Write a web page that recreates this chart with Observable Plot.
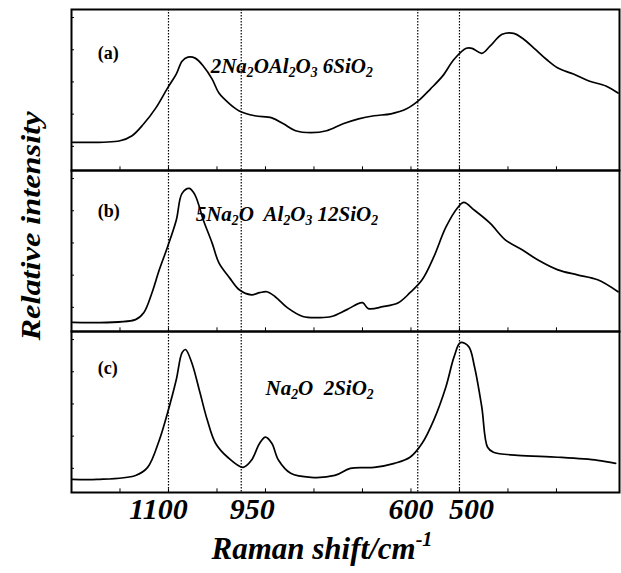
<!DOCTYPE html>
<html><head><meta charset="utf-8">
<script src="https://cdn.jsdelivr.net/npm/d3@7"></script>
<script src="https://cdn.jsdelivr.net/npm/@observablehq/plot@0.6"></script>
<style>
body{margin:0;background:#fff;}
</style></head><body><div id="chart"></div>
<script>
const panels = ["a", "b", "c"];
const panelLabels = ["(a)", "(b)", "(c)"];
const compositions = ["2Na₂OAl₂O₃ 6SiO₂", "5Na₂O\u00a0 Al₂O₃ 12SiO₂", "Na₂O\u00a0 2SiO₂"];
const labelX = [1246, 1246, 1246];
const labelY = [73, 75, 77];
const compX = [1013, 1044, 900];
const compY = [65, 73, 65];
const xTickLabels = [1100, 950, 600, 500];
const xMinorTicks = [1200, 1100, 1000, 900, 800, 700, 600, 500, 400, 300];
const yMinorTicks = [15, 35, 55, 75, 95];
const guideLines = [1100, 950, 586, 500];

// (a) 2Na2O Al2O3 6SiO2
const shiftA = [1298,1200,1175,1151,1126,1102,1084,1072,1060,1045,1028,1010,996,974,954,922,887,863,838,806,774,740,708,676,641,609,585,560,535,511,486,474,454,437,412,388,370,346,321,297,265,233,198,173];
const intA = [17.5,18.5,21.6,29,38.9,51.2,59.9,67.9,70.4,69.8,64.8,56.8,48.1,41.4,37,34,32.7,29,24.7,23.5,24.7,29,32.1,34,35.2,38.3,43.2,50.6,58.6,69.1,75.9,75.9,72.8,77.2,84.6,85.2,82.1,75.9,69.1,63.6,59.9,55.6,52.5,48.1];
// (b) 5Na2O Al2O3 12SiO2
const shiftB = [1298,1168,1151,1134,1119,1102,1084,1072,1057,1045,1028,1010,996,974,954,929,912,897,880,855,823,789,764,732,700,688,658,626,602,577,553,528,503,491,469,437,405,370,338,297,257,215,173];
const intB = [5.7,7.4,11.7,24.1,38.3,52.5,69.1,85.8,88.9,84.6,69.1,54.9,42.6,33.3,25.9,22.8,24.1,24.7,21.6,14.8,9.3,8.6,9.3,13.6,17.9,14.2,15.4,17.9,24.1,32.1,46.3,64.8,77.2,80.2,75.3,67.3,56.8,50.6,44.4,38.3,35.2,32.1,24.7];
// (c) Na2O 2SiO2
const shiftC = [1298,1247,1168,1143,1119,1102,1084,1072,1065,1052,1035,1020,1003,978,946,929,912,900,887,873,848,806,757,725,676,634,602,577,553,528,511,498,481,469,454,442,430,380,297,215,178];
const intC = [8.1,8.1,10.6,15.6,32.5,49.4,70,86.9,88.8,80.6,61.9,45,30.6,21.9,15.6,20,30.6,34.4,30.6,20,11.9,9.4,10.6,15,15.6,18.1,21.9,30.6,45,65.6,84.4,93.1,90.6,78.1,53.1,28.1,25,23.1,21.9,20,18.1];

const FONT = '"Liberation Serif", "Times New Roman", Times, serif';

const table = [];
[[shiftA, intA], [shiftB, intB], [shiftC, intC]].forEach(([xs, ys], k) =>
  xs.forEach((v, i) => table.push({panel: panels[k], shift: v, intensity: ys[i]})));
const labelTable = panels.map((p, k) => ({panel: p, label: panelLabels[k], comp: compositions[k],
  lx: labelX[k], ly: labelY[k], cx: compX[k], cy: compY[k]}));

const W = 621, H = 573, ML = 71, MR = 2, MT = 8, MB = 81;
const facetH = (H - MT - MB) / panels.length;
// hand-placed label nudges as in the original figure
const tickLabelNudge = [-10, 11, 0, 12];

const plot = Plot.plot({
  width: W, height: H, marginLeft: ML, marginRight: MR, marginTop: MT, marginBottom: MB,
  style: {fontFamily: FONT, background: "white", color: "black", overflow: "visible"},
  x: {domain: [1300, 170]},
  y: {domain: [0, 100], axis: null},
  fy: {domain: panels, padding: 0, axis: null},
  marks: [
    Plot.ruleX(guideLines, {stroke: "black", strokeWidth: 1.2, strokeDasharray: "1.5 1.5"}),
    Plot.tickX(xMinorTicks, {x: d => d, insetTop: facetH - 4, stroke: "black", strokeWidth: 1}),
    Plot.tickY(yMinorTicks, {y: d => d, insetRight: (W - ML - MR) - 3, stroke: "black", strokeWidth: 1}),
    Plot.line(table, {x: "shift", y: "intensity", fy: "panel", stroke: "black", strokeWidth: 1.7, curve: "catmull-rom"}),
    Plot.text(labelTable, {x: "lx", y: "ly", fy: "panel", text: "label", textAnchor: "start",
      fontSize: 18, fontWeight: "bold", fill: "black"}),
    Plot.text(labelTable, {x: "cx", y: "cy", fy: "panel", text: "comp", textAnchor: "start",
      fontSize: 21, fontWeight: "bold", fontStyle: "italic", fill: "black"}),
    Plot.frame({stroke: "black", strokeWidth: 2}),
    ...xTickLabels.map((t, i) => Plot.axisX([t], {anchor: "bottom", tickSize: 0, tickPadding: 5, tickFormat: "d",
      dx: tickLabelNudge[i], fontSize: 30, fontWeight: "bold", fontStyle: "italic", label: null, fill: "black"}))
  ]
});
document.getElementById("chart").appendChild(plot);

const svg = d3.select(plot);
svg.append("text")
  .attr("x", 322).attr("y", 559)
  .attr("text-anchor", "middle")
  .attr("font-family", FONT).attr("font-size", 31)
  .attr("font-weight", "bold").attr("font-style", "italic")
  .attr("fill", "black")
  .text("Raman shift/cm⁻¹");
svg.append("text")
  .attr("transform", "translate(40,226) rotate(-90)")
  .attr("text-anchor", "middle")
  .attr("font-family", FONT).attr("font-size", 28)
  .attr("font-weight", "bold").attr("font-style", "italic")
  .attr("textLength", 229).attr("lengthAdjust", "spacingAndGlyphs")
  .attr("fill", "black")
  .text("Relative intensity");

// turn unicode sub/superscripts into shifted tspans
const SUB = "₀₁₂₃₄₅₆₇₈₉", SUP = "⁰¹²³⁴⁵⁶⁷⁸⁹⁻";
const SUPN = "0123456789-";
plot.querySelectorAll("text").forEach(el => {
  const s = el.textContent;
  if (![...s].some(c => SUB.includes(c) || SUP.includes(c))) return;
  const fs = parseFloat(getComputedStyle(el).fontSize) || 20;
  const groups = [];
  for (const c of s) {
    let mode = 0, ch = c;
    if (SUB.includes(c)) { mode = 1; ch = String(SUB.indexOf(c)); }
    else if (SUP.includes(c)) { mode = -1; ch = SUPN[SUP.indexOf(c)]; }
    if (groups.length && groups[groups.length - 1].mode === mode) groups[groups.length - 1].t += ch;
    else groups.push({mode, t: ch});
  }
  el.textContent = "";
  let cur = 0;
  for (const g of groups) {
    const target = g.mode === 1 ? 0.22 * fs : g.mode === -1 ? -0.42 * fs : 0;
    const ts = document.createElementNS("http://www.w3.org/2000/svg", "tspan");
    if (target !== cur) ts.setAttribute("dy", (target - cur).toFixed(2));
    if (g.mode !== 0) ts.setAttribute("font-size", (0.65 * fs).toFixed(1));
    ts.textContent = g.t;
    el.appendChild(ts);
    cur = target;
  }
});
</script></body></html>
